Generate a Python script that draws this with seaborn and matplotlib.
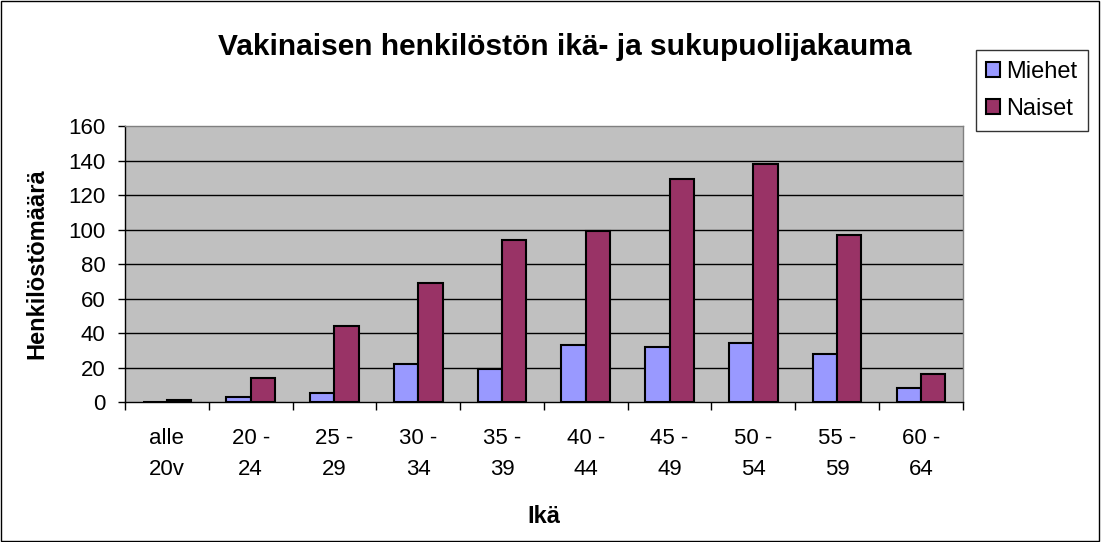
import matplotlib
matplotlib.use("Agg")
import matplotlib.pyplot as plt
import seaborn as sns
import pandas as pd
from matplotlib.patches import Rectangle

age_groups = ["alle\n20v", "20 -\n24", "25 -\n29", "30 -\n34", "35 -\n39",
              "40 -\n44", "45 -\n49", "50 -\n54", "55 -\n59", "60 -\n64"]
miehet = [0, 3, 5, 22, 19, 33, 32, 34, 28, 8]
naiset = [1, 14, 44, 69, 94, 99, 129, 138, 97, 16]
series = ["Miehet", "Naiset"]
colors = ["#9999FF", "#993366"]

df = pd.DataFrame({
    "age": age_groups * 2,
    "count": miehet + naiset,
    "sex": [series[0]] * len(age_groups) + [series[1]] * len(age_groups),
})

sns.set_style("white")
plt.rcParams["font.family"] = ["Liberation Sans", "DejaVu Sans"]
plt.rcParams["text.color"] = "black"
plt.rcParams["axes.labelcolor"] = "black"
plt.rcParams["xtick.color"] = "black"
plt.rcParams["ytick.color"] = "black"

fig = plt.figure(figsize=(11.01, 5.42), dpi=100)
ax = fig.add_axes([0.1135, 0.2583, 0.761, 0.5092])
ax.set_facecolor("#C0C0C0")

sns.barplot(data=df, x="age", y="count", hue="sex", order=age_groups,
            hue_order=series, palette=colors, saturation=1, width=0.58, gap=0,
            edgecolor="black", linewidth=1.5, ax=ax, zorder=3)

ax.set_ylim(0, 160)
ax.set_xlim(-0.5, len(age_groups) - 0.5)
ax.set_yticks(range(0, 161, 20))
for y in range(20, 160, 20):
    ax.axhline(y, color="black", linewidth=1, zorder=1)

ax.tick_params(axis="y", direction="out", length=5, width=1, colors="black",
               labelsize=16, left=True, pad=9)
ax.tick_params(axis="x", which="major", length=0, labelsize=16, pad=19,
               labelcolor="black")
ax.set_xticks([i - 0.5 for i in range(len(age_groups) + 1)], minor=True)
ax.tick_params(axis="x", which="minor", direction="out", length=6, width=1,
               color="black", bottom=True)
for lbl in ax.get_xticklabels():
    lbl.set_linespacing(1.6)

ax.spines["left"].set_color("black")
ax.spines["bottom"].set_color("black")
ax.spines["top"].set_color("#808080")
ax.spines["right"].set_color("#808080")
for s in ax.spines.values():
    s.set_linewidth(1)

ax.set_xlabel("Ikä", fontsize=17, fontweight="bold", labelpad=18, color="black")
ax.set_ylabel("Henkilöstömäärä", fontsize=17, fontweight="bold", labelpad=14,
              color="black")

fig.suptitle("Vakinaisen henkilöstön ikä- ja sukupuolijakauma", x=0.513,
             y=0.94, fontsize=21.5, fontweight="bold", color="black")

leg = ax.legend(loc="upper left", bbox_to_anchor=(0.8862, 0.9077),
                bbox_transform=fig.transFigure, frameon=True, fancybox=False,
                fontsize=17, handlelength=0.6, handleheight=0.6,
                handletextpad=0.25, borderpad=0.45, labelspacing=0.65,
                borderaxespad=0)
leg.get_frame().set_edgecolor("black")
leg.get_frame().set_linewidth(1)
for t in leg.get_texts():
    t.set_color("black")

fig.patches.append(Rectangle((0.001, 0.002), 0.997, 0.996, transform=fig.transFigure,
                             fill=False, edgecolor="black", linewidth=1))

fig.savefig("out.png", dpi=100, facecolor="white")
